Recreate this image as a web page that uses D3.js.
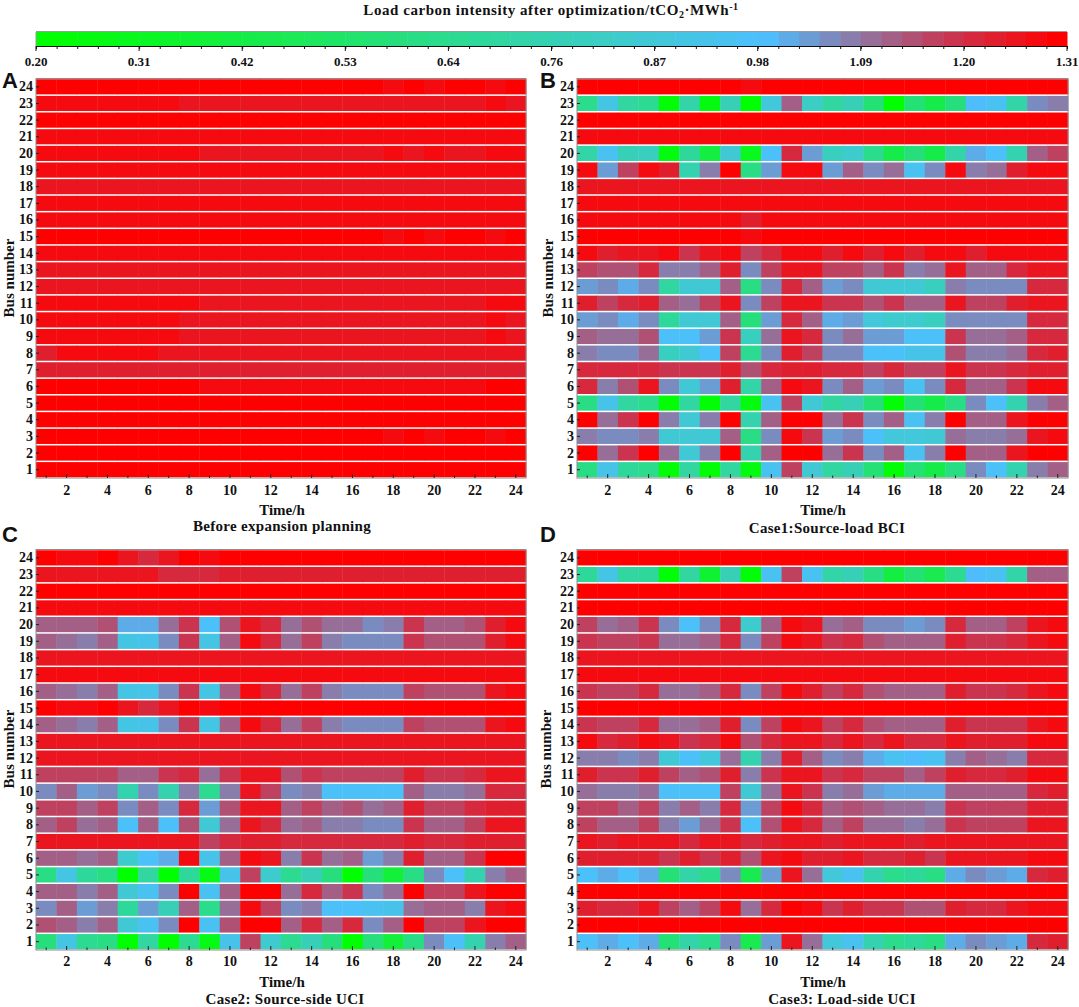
<!DOCTYPE html>
<html><head><meta charset="utf-8">
<script src="https://cdn.jsdelivr.net/npm/d3@7/dist/d3.min.js"></script>
<style>
html,body{margin:0;padding:0;background:#fff}
svg{display:block}
text{font-family:"Liberation Serif",serif;font-weight:bold;fill:#111}
.letter{font-family:"Liberation Sans",sans-serif}
</style></head><body><div id="chart"></div>
<script>
const hours=[1,2,3,4,5,6,7,8,9,10,11,12,13,14,15,16,17,18,19,20,21,22,23,24];
const buses=[1,2,3,4,5,6,7,8,9,10,11,12,13,14,15,16,17,18,19,20,21,22,23,24];
const evenHourLabels=[2,4,6,8,10,12,14,16,18,20,22,24];
const legendTicks=[0.20,0.31,0.42,0.53,0.64,0.76,0.87,0.98,1.09,1.20,1.31];
const colorStopValues=[0.20,0.99,1.09,1.20,1.31];
const colorStopColors=["#00ff00","#4dbeff","#8c78a5","#cd324b","#ff0000"];
const panelTitles=["Before expansion planning","Case1:Source-load BCI","Case2: Source-side UCI","Case3: Load-side UCI"];
const panelLetters=["A","B","C","D"];

// rows listed from bus 1 to bus 24, columns hour 1 to hour 24
const panelA=[
[1.31,1.31,1.31,1.31,1.31,1.31,1.31,1.31,1.31,1.31,1.31,1.31,1.31,1.31,1.31,1.31,1.31,1.31,1.31,1.31,1.31,1.31,1.31,1.31],
[1.31,1.31,1.31,1.31,1.31,1.31,1.31,1.31,1.31,1.31,1.31,1.31,1.31,1.31,1.31,1.31,1.31,1.31,1.31,1.31,1.31,1.31,1.31,1.31],
[1.31,1.31,1.31,1.31,1.31,1.31,1.31,1.31,1.31,1.31,1.31,1.31,1.31,1.31,1.31,1.31,1.31,1.28,1.31,1.28,1.31,1.31,1.28,1.31],
[1.31,1.31,1.31,1.31,1.31,1.31,1.31,1.31,1.31,1.31,1.31,1.31,1.31,1.31,1.31,1.31,1.31,1.31,1.31,1.31,1.31,1.31,1.31,1.31],
[1.31,1.31,1.31,1.31,1.31,1.31,1.31,1.31,1.31,1.31,1.31,1.31,1.31,1.31,1.31,1.31,1.31,1.31,1.31,1.31,1.31,1.31,1.31,1.31],
[1.31,1.31,1.31,1.31,1.31,1.31,1.31,1.31,1.28,1.28,1.28,1.28,1.28,1.28,1.28,1.28,1.28,1.28,1.28,1.28,1.28,1.28,1.31,1.31],
[1.25,1.25,1.25,1.25,1.25,1.25,1.25,1.25,1.25,1.25,1.25,1.25,1.25,1.25,1.25,1.25,1.25,1.25,1.25,1.25,1.25,1.25,1.25,1.25],
[1.25,1.28,1.28,1.28,1.28,1.28,1.26,1.26,1.26,1.26,1.26,1.26,1.26,1.26,1.26,1.26,1.26,1.26,1.26,1.26,1.26,1.26,1.26,1.26],
[1.28,1.28,1.28,1.28,1.28,1.28,1.28,1.26,1.26,1.26,1.26,1.26,1.26,1.26,1.26,1.26,1.26,1.26,1.26,1.26,1.26,1.26,1.28,1.26],
[1.28,1.28,1.28,1.28,1.28,1.28,1.28,1.26,1.26,1.26,1.26,1.26,1.26,1.26,1.26,1.26,1.26,1.26,1.26,1.26,1.26,1.26,1.28,1.26],
[1.28,1.28,1.28,1.28,1.28,1.28,1.28,1.28,1.26,1.26,1.26,1.26,1.26,1.26,1.26,1.26,1.26,1.26,1.26,1.26,1.26,1.26,1.28,1.28],
[1.26,1.26,1.26,1.26,1.26,1.26,1.26,1.26,1.26,1.26,1.26,1.26,1.26,1.26,1.26,1.26,1.26,1.26,1.26,1.26,1.26,1.26,1.26,1.26],
[1.26,1.26,1.26,1.26,1.26,1.26,1.26,1.26,1.26,1.26,1.26,1.26,1.26,1.26,1.26,1.26,1.26,1.26,1.26,1.26,1.26,1.26,1.26,1.26],
[1.28,1.28,1.28,1.28,1.28,1.28,1.28,1.28,1.28,1.28,1.28,1.28,1.28,1.28,1.28,1.28,1.28,1.28,1.28,1.28,1.28,1.28,1.28,1.28],
[1.31,1.31,1.31,1.31,1.31,1.31,1.31,1.31,1.31,1.31,1.31,1.31,1.31,1.31,1.31,1.31,1.31,1.28,1.31,1.28,1.31,1.31,1.28,1.31],
[1.28,1.28,1.28,1.28,1.28,1.28,1.28,1.28,1.28,1.28,1.28,1.28,1.28,1.28,1.28,1.28,1.28,1.28,1.28,1.28,1.28,1.28,1.28,1.28],
[1.28,1.28,1.28,1.28,1.28,1.28,1.28,1.28,1.28,1.28,1.28,1.28,1.28,1.28,1.28,1.28,1.28,1.28,1.28,1.28,1.28,1.28,1.28,1.28],
[1.26,1.26,1.26,1.26,1.26,1.26,1.26,1.26,1.26,1.26,1.26,1.26,1.26,1.26,1.26,1.26,1.26,1.26,1.26,1.26,1.26,1.26,1.26,1.26],
[1.28,1.28,1.28,1.28,1.28,1.28,1.28,1.28,1.28,1.28,1.28,1.28,1.28,1.28,1.28,1.28,1.28,1.28,1.28,1.28,1.28,1.28,1.28,1.28],
[1.28,1.28,1.28,1.28,1.28,1.28,1.28,1.28,1.26,1.26,1.26,1.26,1.26,1.26,1.26,1.26,1.26,1.28,1.26,1.28,1.26,1.26,1.28,1.28],
[1.28,1.28,1.28,1.28,1.28,1.28,1.28,1.28,1.28,1.28,1.28,1.28,1.28,1.28,1.28,1.28,1.28,1.28,1.28,1.28,1.28,1.28,1.28,1.28],
[1.31,1.31,1.31,1.31,1.31,1.31,1.31,1.31,1.31,1.31,1.31,1.31,1.31,1.31,1.31,1.31,1.31,1.31,1.31,1.31,1.31,1.31,1.31,1.31],
[1.28,1.28,1.28,1.28,1.28,1.28,1.28,1.26,1.26,1.26,1.26,1.26,1.26,1.26,1.26,1.26,1.26,1.26,1.26,1.26,1.26,1.26,1.28,1.26],
[1.31,1.31,1.31,1.31,1.31,1.31,1.31,1.31,1.31,1.31,1.31,1.31,1.31,1.31,1.31,1.31,1.31,1.28,1.31,1.28,1.31,1.31,1.28,1.31]
];
const panelB=[
[0.60,0.92,0.68,0.62,0.22,0.70,0.22,0.70,0.24,0.94,1.17,0.86,0.70,0.76,0.56,0.22,0.56,0.42,0.60,1.05,0.97,0.74,1.09,1.14],
[1.30,1.10,1.20,1.31,1.10,0.85,1.09,1.31,0.75,1.14,1.31,1.31,1.10,1.19,1.07,1.14,0.95,1.09,1.31,1.14,1.14,1.26,1.31,1.31],
[1.09,1.07,1.05,1.09,0.86,0.86,0.86,1.13,0.60,1.05,1.28,1.20,1.03,1.07,0.97,0.88,0.88,0.86,1.11,1.09,1.09,1.10,1.26,1.29],
[1.30,1.10,1.20,1.31,1.09,0.85,1.09,1.31,0.75,1.14,1.31,1.31,1.10,1.19,1.07,1.14,0.95,1.09,1.31,1.14,1.14,1.26,1.31,1.31],
[0.60,0.92,0.70,0.62,0.22,0.70,0.22,0.70,0.24,0.94,1.17,0.86,0.70,0.76,0.56,0.22,0.56,0.42,0.60,1.05,0.97,0.74,1.09,1.14],
[1.22,1.08,1.16,1.26,1.05,0.86,1.03,1.25,0.72,1.12,1.29,1.26,1.07,1.13,1.03,1.07,0.94,1.05,1.22,1.13,1.13,1.19,1.29,1.29],
[1.23,1.23,1.23,1.23,1.20,1.20,1.20,1.25,1.16,1.21,1.24,1.24,1.21,1.21,1.18,1.22,1.17,1.17,1.26,1.20,1.20,1.22,1.25,1.25],
[1.09,1.07,1.05,1.11,0.80,0.86,0.96,1.17,0.66,1.07,1.25,1.18,1.05,1.07,0.96,0.96,0.92,0.92,1.16,1.09,1.09,1.11,1.23,1.25],
[1.13,1.10,1.10,1.15,0.96,0.96,1.03,1.19,0.78,1.11,1.26,1.21,1.07,1.11,1.03,1.03,0.96,0.96,1.19,1.10,1.10,1.12,1.23,1.23],
[1.04,1.05,1.01,1.05,0.68,0.85,0.85,1.13,0.58,1.04,1.22,1.12,1.01,1.04,0.87,0.83,0.83,0.80,1.07,1.07,1.05,1.05,1.22,1.22],
[1.24,1.17,1.21,1.24,1.13,1.11,1.18,1.26,1.07,1.18,1.26,1.26,1.19,1.19,1.15,1.19,1.12,1.14,1.26,1.18,1.18,1.24,1.26,1.26],
[1.04,1.06,1.01,1.06,0.70,0.85,0.85,1.13,0.60,1.05,1.23,1.12,1.03,1.05,0.86,0.85,0.85,0.80,1.09,1.07,1.07,1.05,1.22,1.22],
[1.18,1.15,1.15,1.22,1.09,1.09,1.14,1.25,1.05,1.17,1.26,1.26,1.17,1.17,1.12,1.20,1.09,1.10,1.26,1.14,1.14,1.21,1.26,1.26],
[1.28,1.24,1.27,1.27,1.28,1.20,1.27,1.28,1.17,1.23,1.28,1.28,1.25,1.28,1.25,1.28,1.25,1.28,1.28,1.25,1.28,1.28,1.28,1.28],
[1.31,1.31,1.31,1.31,1.31,1.31,1.31,1.31,1.28,1.31,1.31,1.31,1.31,1.31,1.31,1.31,1.31,1.31,1.31,1.31,1.31,1.31,1.31,1.31],
[1.28,1.28,1.28,1.28,1.28,1.28,1.28,1.28,1.25,1.28,1.28,1.28,1.28,1.28,1.28,1.28,1.28,1.28,1.28,1.28,1.28,1.28,1.28,1.28],
[1.28,1.28,1.28,1.28,1.28,1.28,1.28,1.28,1.28,1.28,1.28,1.28,1.28,1.28,1.28,1.28,1.28,1.28,1.28,1.28,1.28,1.28,1.28,1.28],
[1.26,1.26,1.26,1.26,1.26,1.26,1.26,1.26,1.26,1.26,1.26,1.26,1.26,1.26,1.26,1.26,1.26,1.26,1.26,1.26,1.26,1.26,1.26,1.26],
[1.28,1.04,1.18,1.28,1.25,0.74,1.09,1.30,0.60,1.03,1.28,1.28,1.03,1.12,1.07,1.10,0.95,1.05,1.28,1.08,1.10,1.25,1.28,1.28],
[0.72,0.95,0.76,0.80,0.25,0.68,0.40,0.85,0.28,0.96,1.22,1.04,0.78,0.84,0.62,0.42,0.58,0.42,0.72,1.01,0.96,0.74,1.13,1.17],
[1.28,1.28,1.28,1.28,1.28,1.28,1.28,1.28,1.28,1.28,1.28,1.28,1.28,1.28,1.28,1.28,1.28,1.28,1.28,1.28,1.28,1.28,1.28,1.28],
[1.31,1.31,1.31,1.31,1.31,1.31,1.31,1.31,1.31,1.31,1.31,1.31,1.31,1.31,1.31,1.31,1.31,1.31,1.31,1.31,1.31,1.31,1.31,1.31],
[0.62,0.90,0.70,0.65,0.22,0.72,0.25,0.76,0.20,0.88,1.12,0.82,0.70,0.76,0.56,0.20,0.56,0.42,0.58,1.00,0.95,0.72,1.06,1.09],
[1.31,1.31,1.31,1.31,1.31,1.31,1.31,1.31,1.28,1.31,1.31,1.31,1.31,1.31,1.31,1.31,1.31,1.31,1.31,1.31,1.31,1.31,1.31,1.31]
];
const panelC=[
[0.58,0.90,0.66,0.60,0.21,0.70,0.21,0.66,0.27,0.92,1.17,0.84,0.66,0.76,0.58,0.20,0.58,0.38,0.60,1.05,0.96,0.74,1.09,1.12],
[1.15,1.13,1.09,1.13,0.85,0.95,1.05,1.31,0.95,1.15,1.31,1.31,1.12,1.21,1.14,1.21,1.06,1.13,1.31,1.17,1.17,1.26,1.31,1.31],
[1.05,1.13,1.03,1.09,0.68,1.04,0.76,1.12,0.64,1.11,1.28,1.17,1.06,1.09,0.97,0.97,0.95,0.92,1.11,1.12,1.12,1.08,1.26,1.29],
[1.14,1.12,1.09,1.12,0.85,0.95,1.05,1.31,0.95,1.14,1.31,1.31,1.10,1.21,1.12,1.19,1.06,1.11,1.31,1.17,1.17,1.26,1.31,1.31],
[0.60,0.90,0.68,0.60,0.21,0.70,0.21,0.68,0.27,0.92,1.17,0.84,0.66,0.76,0.58,0.20,0.58,0.38,0.60,1.05,0.96,0.74,1.09,1.12],
[1.13,1.13,1.10,1.12,0.84,0.96,1.01,1.29,0.92,1.12,1.29,1.27,1.09,1.19,1.10,1.13,1.04,1.09,1.25,1.14,1.14,1.20,1.30,1.30],
[1.27,1.27,1.27,1.27,1.27,1.27,1.27,1.27,1.17,1.22,1.25,1.25,1.23,1.23,1.23,1.23,1.21,1.21,1.25,1.21,1.23,1.25,1.25,1.25],
[1.12,1.18,1.11,1.13,0.96,1.12,0.96,1.16,0.85,1.10,1.26,1.22,1.10,1.12,1.09,1.09,1.05,1.07,1.20,1.13,1.13,1.18,1.26,1.26],
[1.17,1.17,1.14,1.17,1.05,1.13,1.07,1.23,1.03,1.15,1.26,1.26,1.13,1.18,1.13,1.15,1.11,1.13,1.24,1.18,1.18,1.23,1.25,1.25],
[1.05,1.13,1.03,1.07,0.74,1.05,0.75,1.09,0.66,1.09,1.27,1.17,1.05,1.09,0.97,0.97,0.97,0.97,1.12,1.08,1.08,1.10,1.21,1.21],
[1.18,1.18,1.18,1.18,1.14,1.14,1.20,1.23,1.10,1.19,1.26,1.26,1.16,1.20,1.17,1.17,1.17,1.17,1.24,1.20,1.20,1.23,1.27,1.27],
[1.26,1.26,1.26,1.26,1.26,1.26,1.26,1.26,1.26,1.26,1.26,1.26,1.26,1.26,1.26,1.26,1.26,1.26,1.26,1.26,1.26,1.26,1.26,1.26],
[1.27,1.27,1.27,1.27,1.27,1.27,1.27,1.27,1.27,1.27,1.27,1.27,1.27,1.27,1.27,1.27,1.27,1.27,1.27,1.27,1.27,1.27,1.27,1.27],
[1.13,1.11,1.09,1.12,0.90,0.92,1.06,1.19,0.90,1.13,1.28,1.22,1.11,1.17,1.08,1.07,1.05,1.05,1.18,1.15,1.15,1.15,1.26,1.28],
[1.31,1.28,1.28,1.31,1.27,1.22,1.27,1.31,1.28,1.31,1.31,1.31,1.31,1.31,1.31,1.31,1.31,1.31,1.31,1.31,1.31,1.31,1.31,1.31],
[1.13,1.11,1.09,1.12,0.90,0.92,1.06,1.19,0.90,1.13,1.28,1.22,1.11,1.17,1.08,1.07,1.05,1.05,1.18,1.15,1.15,1.15,1.26,1.28],
[1.28,1.28,1.28,1.28,1.28,1.28,1.28,1.28,1.28,1.28,1.28,1.28,1.28,1.28,1.28,1.28,1.28,1.28,1.28,1.28,1.28,1.28,1.28,1.28],
[1.26,1.26,1.26,1.26,1.26,1.26,1.26,1.26,1.26,1.26,1.26,1.26,1.26,1.26,1.26,1.26,1.26,1.26,1.26,1.26,1.26,1.26,1.26,1.26],
[1.13,1.11,1.09,1.12,0.90,0.92,1.06,1.19,0.91,1.13,1.29,1.22,1.10,1.17,1.08,1.06,1.05,1.05,1.19,1.15,1.15,1.15,1.25,1.28],
[1.12,1.12,1.12,1.15,1.01,1.01,1.10,1.19,0.97,1.15,1.26,1.21,1.11,1.16,1.11,1.11,1.07,1.09,1.20,1.14,1.14,1.16,1.25,1.28],
[1.28,1.28,1.28,1.28,1.28,1.28,1.28,1.28,1.28,1.28,1.28,1.28,1.28,1.28,1.28,1.28,1.28,1.28,1.28,1.28,1.28,1.28,1.28,1.28],
[1.31,1.31,1.31,1.31,1.31,1.31,1.31,1.31,1.31,1.31,1.31,1.31,1.31,1.31,1.31,1.31,1.31,1.31,1.31,1.31,1.31,1.31,1.31,1.31],
[1.26,1.26,1.26,1.26,1.26,1.26,1.23,1.23,1.23,1.25,1.25,1.25,1.25,1.25,1.25,1.25,1.25,1.25,1.25,1.25,1.25,1.25,1.25,1.25],
[1.31,1.28,1.28,1.31,1.27,1.21,1.27,1.31,1.28,1.31,1.31,1.31,1.31,1.31,1.31,1.31,1.31,1.31,1.31,1.31,1.31,1.31,1.31,1.31]
];
const panelD=[
[0.96,1.02,0.96,1.01,0.56,0.72,0.62,1.06,0.46,1.03,1.26,1.11,0.87,0.95,0.74,0.62,0.68,0.60,1.01,1.05,1.03,1.01,1.22,1.24],
[1.31,1.31,1.31,1.31,1.31,1.31,1.31,1.31,1.31,1.31,1.31,1.31,1.31,1.31,1.31,1.31,1.31,1.31,1.31,1.31,1.31,1.31,1.31,1.31],
[1.25,1.23,1.23,1.26,1.17,1.14,1.17,1.29,1.11,1.23,1.31,1.28,1.20,1.24,1.19,1.19,1.16,1.16,1.25,1.23,1.23,1.26,1.28,1.28],
[1.31,1.31,1.31,1.31,1.31,1.31,1.31,1.31,1.31,1.31,1.31,1.31,1.31,1.31,1.31,1.31,1.31,1.31,1.31,1.31,1.31,1.31,1.31,1.31],
[0.96,1.02,0.96,1.01,0.56,0.72,0.62,1.06,0.46,1.03,1.26,1.11,0.87,0.95,0.74,0.62,0.68,0.60,1.01,1.05,1.03,1.01,1.22,1.24],
[1.25,1.25,1.25,1.25,1.20,1.24,1.20,1.25,1.15,1.27,1.28,1.25,1.24,1.26,1.23,1.21,1.24,1.20,1.26,1.26,1.26,1.26,1.29,1.29],
[1.27,1.24,1.27,1.27,1.27,1.21,1.27,1.27,1.21,1.24,1.26,1.26,1.24,1.27,1.27,1.27,1.24,1.27,1.27,1.27,1.27,1.27,1.26,1.26],
[1.17,1.14,1.14,1.17,1.08,1.04,1.10,1.20,0.96,1.15,1.26,1.23,1.13,1.18,1.11,1.11,1.08,1.11,1.20,1.17,1.17,1.18,1.27,1.27],
[1.17,1.17,1.14,1.18,1.09,1.12,1.09,1.21,1.03,1.18,1.28,1.22,1.12,1.15,1.13,1.10,1.10,1.08,1.19,1.18,1.18,1.18,1.24,1.25],
[1.11,1.09,1.09,1.11,0.98,0.98,0.98,1.17,0.85,1.10,1.27,1.19,1.09,1.11,1.04,1.02,1.02,1.02,1.14,1.13,1.13,1.14,1.23,1.25],
[1.24,1.20,1.20,1.24,1.17,1.12,1.15,1.25,1.08,1.19,1.27,1.27,1.19,1.22,1.18,1.18,1.14,1.17,1.25,1.21,1.21,1.24,1.28,1.28],
[1.09,1.09,1.06,1.09,0.85,0.98,0.87,1.10,0.74,1.08,1.24,1.14,1.05,1.09,1.02,0.94,1.00,0.94,1.09,1.13,1.10,1.09,1.22,1.23],
[1.28,1.22,1.25,1.29,1.26,1.19,1.23,1.28,1.15,1.22,1.27,1.27,1.22,1.26,1.22,1.26,1.22,1.22,1.27,1.24,1.24,1.25,1.28,1.28],
[1.20,1.17,1.17,1.21,1.11,1.11,1.13,1.24,1.05,1.18,1.28,1.26,1.18,1.22,1.15,1.12,1.12,1.12,1.24,1.20,1.20,1.20,1.27,1.28],
[1.31,1.31,1.31,1.31,1.31,1.31,1.31,1.31,1.31,1.31,1.31,1.31,1.31,1.31,1.31,1.31,1.31,1.31,1.31,1.31,1.31,1.31,1.31,1.31],
[1.20,1.17,1.17,1.21,1.11,1.11,1.13,1.23,1.05,1.17,1.28,1.25,1.18,1.22,1.15,1.12,1.12,1.12,1.24,1.20,1.20,1.21,1.27,1.28],
[1.29,1.29,1.29,1.29,1.29,1.29,1.29,1.29,1.29,1.29,1.29,1.29,1.29,1.29,1.29,1.29,1.29,1.29,1.29,1.29,1.29,1.29,1.29,1.29],
[1.26,1.26,1.26,1.26,1.26,1.26,1.26,1.26,1.26,1.26,1.26,1.26,1.26,1.26,1.26,1.26,1.26,1.26,1.26,1.26,1.26,1.26,1.26,1.26],
[1.20,1.17,1.17,1.20,1.11,1.11,1.13,1.23,1.05,1.17,1.28,1.26,1.19,1.22,1.15,1.12,1.12,1.12,1.24,1.20,1.20,1.21,1.27,1.28],
[1.17,1.11,1.14,1.20,1.05,0.97,1.07,1.23,0.84,1.13,1.28,1.26,1.10,1.14,1.07,1.07,1.03,1.05,1.21,1.14,1.14,1.17,1.27,1.28],
[1.30,1.30,1.30,1.30,1.30,1.30,1.30,1.30,1.30,1.30,1.30,1.30,1.30,1.30,1.30,1.30,1.30,1.30,1.30,1.30,1.30,1.30,1.30,1.30],
[1.31,1.31,1.31,1.31,1.31,1.31,1.31,1.31,1.31,1.31,1.31,1.31,1.31,1.31,1.31,1.31,1.31,1.31,1.31,1.31,1.31,1.31,1.31,1.31],
[0.68,0.90,0.70,0.68,0.22,0.70,0.36,0.76,0.22,0.94,1.17,0.94,0.72,0.76,0.60,0.40,0.56,0.44,0.66,1.00,0.95,0.72,1.12,1.14],
[1.31,1.31,1.31,1.31,1.31,1.31,1.31,1.31,1.31,1.31,1.31,1.31,1.31,1.31,1.31,1.31,1.31,1.31,1.31,1.31,1.31,1.31,1.31,1.31]
];

const W=1079,H=1007;
const svg=d3.select("#chart").append("svg").attr("width",W).attr("height",H).attr("viewBox",[0,0,W,H]);

// colour: 50 discrete steps, as the stepped legend bar shows
const STEPS=50,vMin=legendTicks[0],vMax=legendTicks[legendTicks.length-1];
const cont=d3.scaleLinear().domain(colorStopValues).range(colorStopColors).interpolate(d3.interpolateRgb);
const stepVals=d3.range(STEPS).map(i=>vMin+(vMax-vMin)*i/(STEPS-1));
const half=(vMax-vMin)/(STEPS-1)/2;
const color=d3.scaleQuantize().domain([vMin-half,vMax+half]).range(stepVals.map(v=>cont(v)));

// title
const titleT=svg.append("text").attr("x",551).attr("y",15).attr("text-anchor","middle").attr("font-size",15).style("letter-spacing","0.55px");
titleT.append("tspan").text("Load carbon intensity after optimization/tCO");
titleT.append("tspan").attr("font-size",10).attr("dy",3).text("2");
titleT.append("tspan").attr("dy",-3).text("·MWh");
titleT.append("tspan").attr("font-size",10).attr("dy",-5).text("-1");

// legend bar
const lx=d3.scaleLinear().domain([vMin,vMax]).range([36,1067]);
const bar={t:32,b:46};
const stepW=(lx.range()[1]-lx.range()[0])/STEPS;
svg.append("g").selectAll("rect").data(stepVals).join("rect")
  .attr("x",(d,i)=>36+i*stepW).attr("y",bar.t).attr("width",stepW+0.5).attr("height",bar.b-bar.t)
  .attr("fill",d=>cont(d));
svg.append("rect").attr("x",36).attr("y",bar.t-1).attr("width",1031).attr("height",1).attr("fill","#9a9a9a");
svg.append("rect").attr("x",35.5).attr("y",bar.t).attr("width",1).attr("height",bar.b-bar.t).attr("fill","#9a9a9a");
const legendAxis=d3.axisBottom(lx).tickValues(d3.range(0,STEPS+1).map(i=>vMin+(vMax-vMin)*i/STEPS)).tickSize(3).tickFormat("");
const lg=svg.append("g").attr("transform",`translate(0,${bar.b})`).call(legendAxis);
lg.selectAll("line").attr("stroke","#111").attr("stroke-width",1);
lg.select(".domain").attr("stroke","#111").attr("stroke-width",1);
lg.selectAll("text").remove();
const lm=d3.scaleLinear().domain([0,legendTicks.length-1]).range([36,1067]);
const lg2=svg.append("g");
lg2.selectAll("line").data(legendTicks).join("line")
  .attr("x1",(d,i)=>lm(i)).attr("x2",(d,i)=>lm(i)).attr("y1",bar.b).attr("y2",bar.b+5).attr("stroke","#111");
lg2.selectAll("text").data(legendTicks).join("text")
  .attr("x",(d,i)=>lm(i)).attr("y",66).attr("text-anchor","middle").attr("font-size",13).text(d=>d.toFixed(2));

const layouts=[
 {x0:36,x1:526,y0:78.5,y1:478,letterX:2,letterY:88,yTitleX:14,titleX:282,timeY:515,titleY:531,yc:278,tickY:495,timeX:282},
 {x0:577,x1:1068,y0:78.5,y1:478,letterX:540,letterY:88,yTitleX:553,titleX:827,timeY:515,titleY:533,yc:278,tickY:495,timeX:823},
 {x0:36,x1:526,y0:549.5,y1:950,letterX:2,letterY:542,yTitleX:14,titleX:285,timeY:987,titleY:1004,yc:749,tickY:966,timeX:282},
 {x0:577,x1:1068,y0:549.5,y1:950,letterX:540,letterY:542,yTitleX:551,titleX:842,timeY:987,titleY:1004,yc:749,tickY:966,timeX:823}
];
[panelA,panelB,panelC,panelD].forEach((values,p)=>{
  const L=layouts[p];
  const x=d3.scaleBand().domain(hours).range([L.x0,L.x1]);
  const y=d3.scaleBand().domain(buses).range([L.y1,L.y0]);
  const g=svg.append("g");
  buses.forEach((b,r)=>{
    g.append("g").selectAll("rect").data(values[r]).join("rect")
      .attr("x",(d,i)=>x(hours[i])).attr("y",y(b)+0.75)
      .attr("width",x.bandwidth()+0.4).attr("height",y.bandwidth()-1.5)
      .attr("fill",d=>color(d));
  });
  g.append("rect").attr("x",L.x0).attr("y",L.y0).attr("width",L.x1-L.x0).attr("height",L.y1-L.y0)
    .attr("fill","none").attr("stroke","#8c8c8c").attr("stroke-width",1);
  const xa=d3.axisBottom(x).tickSize(0).tickPadding(0).tickFormat(d=>evenHourLabels.includes(d)?d:"");
  const xg=g.append("g").attr("transform",`translate(0,${L.y1})`).call(xa);
  xg.select(".domain").remove();
  xg.selectAll(".tick line").attr("y2",d=>d%2===0?-4:-2.5).attr("stroke","#222");
  xg.selectAll(".tick text").attr("y",L.tickY-L.y1).attr("dy",0).attr("fill","#111").attr("font-size",14).attr("font-family","Liberation Serif").attr("font-weight","bold");
  const ya=d3.axisLeft(y).tickSize(0).tickPadding(3);
  const yg=g.append("g").attr("transform",`translate(${L.x0},0)`).call(ya);
  yg.select(".domain").remove();
  yg.selectAll(".tick line").attr("x2",3).attr("stroke","#222");
  yg.selectAll(".tick text").attr("fill","#111").attr("font-size",14).attr("font-family","Liberation Serif").attr("font-weight","bold");
  svg.append("text").attr("x",L.timeX).attr("y",L.timeY).attr("text-anchor","middle").attr("font-size",15).text("Time/h");
  svg.append("text").attr("x",L.titleX).attr("y",L.titleY).attr("text-anchor","middle").attr("font-size",15).style("letter-spacing","0.3px").text(panelTitles[p]);
  svg.append("text").attr("transform",`translate(${L.yTitleX},${L.yc}) rotate(-90)`).attr("text-anchor","middle").attr("font-size",15).text("Bus number");
  svg.append("text").attr("class","letter").attr("x",L.letterX).attr("y",L.letterY).attr("font-size",22).text(panelLetters[p]);
});
</script></body></html>
